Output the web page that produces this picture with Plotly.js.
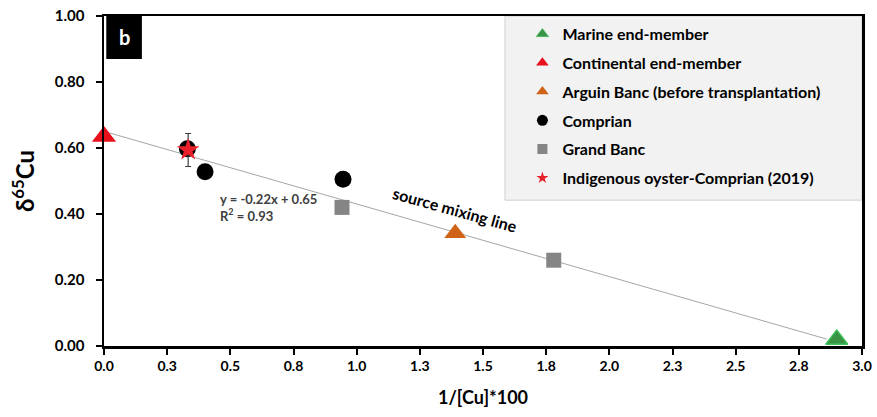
<!DOCTYPE html>
<html>
<head>
<meta charset="utf-8">
<script src="https://cdn.plot.ly/plotly-3.0.1.min.js"></script>
<style>html,body{margin:0;padding:0;background:#fff;}#chart{width:877px;height:417px;}</style>
</head>
<body>
<div id="chart"></div>
<script>
// Data
const marineX = [2.90];
const marineY = [0.02];
const continentalX = [0.0];
const continentalY = [0.635];
const arguinX = [1.39];
const arguinY = [0.342];
const comprianX = [0.33, 0.40, 0.946];
const comprianY = [0.598, 0.528, 0.505];
const grandBancX = [0.942, 1.78];
const grandBancY = [0.42, 0.26];
const indigenousX = [0.333];
const indigenousY = [0.594];
const indigenousErr = [0.05];
const lineX = [0.02, 2.86];
const lineY = [0.646, 0.021];
const xTickVals = [0, 0.25, 0.5, 0.75, 1.0, 1.25, 1.5, 1.75, 2.0, 2.25, 2.5, 2.75, 3.0];
const xTickText = ["0.0","0.3","0.5","0.8","1.0","1.3","1.5","1.8","2.0","2.3","2.5","2.8","3.0"];
const yTickVals = [0, 0.2, 0.4, 0.6, 0.8, 1.0];
const yTickText = ["0.00","0.20","0.40","0.60","0.80","1.00"];
const seriesNames = ['Marine end-member', 'Continental end-member', 'Arguin Banc (before transplantation)',
                     'Comprian', 'Grand Banc', 'Indigenous oyster-Comprian (2019)'];

const F = "Lato, 'Open Sans', sans-serif";

const styles = [
  {symbol: 'triangle-up', color: '#3a9445', line: {color: '#3fc25a', width: 1.5}},
  {symbol: 'triangle-up', color: '#e8101a'},
  {symbol: 'triangle-up', color: '#cf6419'},
  {symbol: 'circle', color: '#000000'},
  {symbol: 'square', color: '#858585'},
  {symbol: 'star', color: '#e8202a'}
];
const chartSizes = [19, 21, 19, 17, 15, 17];
const legendSizes = [11, 11, 11, 11, 10, 9];
const xs = [marineX, continentalX, arguinX, comprianX, grandBancX, indigenousX];
const ys = [marineY, continentalY, arguinY, comprianY, grandBancY, indigenousY];

const traces = [
  {x: lineX, y: lineY, mode: 'lines', line: {color: '#a6a6a6', width: 1}, showlegend: false, hoverinfo: 'skip'}
];
for (let i = 0; i < 6; i++) {
  const m = Object.assign({}, styles[i], {size: chartSizes[i]});
  const t = {x: xs[i], y: ys[i], mode: 'markers', name: seriesNames[i], showlegend: false,
             cliponaxis: false, marker: m};
  if (i === 5) {
    t.error_y = {type: 'data', array: indigenousErr, visible: true, color: '#404040', thickness: 1.2, width: 3};
  }
  traces.push(t);
}
// legend entries (small markers, like the reference legend)
for (let i = 0; i < 6; i++) {
  const m = Object.assign({}, styles[i], {size: legendSizes[i]});
  if (i === 0) m.line = {color: '#3fc25a', width: 0.5};
  traces.push({x: [null], y: [null], mode: 'markers', name: seriesNames[i], legendgroup: 'g' + i,
               showlegend: true, marker: m, hoverinfo: 'skip'});
}

const layout = {
  width: 877, height: 417,
  margin: {l: 104, r: 15, t: 16, b: 71, pad: 0},
  paper_bgcolor: '#ffffff', plot_bgcolor: '#ffffff',
  font: {family: F, color: '#000'},
  showlegend: true,
  legend: {
    x: 0.552, y: 0.997, xanchor: 'left', yanchor: 'top',
    bgcolor: 'rgba(0,0,0,0)', borderwidth: 0,
    traceorder: 'grouped', tracegroupgap: 5, itemsizing: 'trace',
    font: {family: F, size: 16, weight: 700, color: '#000'}
  },
  xaxis: {
    range: [0, 3], tickmode: 'array', tickvals: xTickVals, ticktext: xTickText,
    showgrid: false, zeroline: false, showline: true, linecolor: '#000', linewidth: 2.5, mirror: true,
    ticks: 'outside', ticklen: 6, tickwidth: 2, tickcolor: '#000',
    tickfont: {family: "'Liberation Sans Narrow', 'Arial Narrow', Lato, sans-serif", size: 14, weight: 700},
    title: {text: '1/[Cu]*100', font: {family: F, size: 18, weight: 700}, standoff: 18}
  },
  yaxis: {
    range: [0, 1], tickmode: 'array', tickvals: yTickVals, ticktext: yTickText,
    showgrid: false, zeroline: false, showline: true, linecolor: '#000', linewidth: 2.5, mirror: true,
    ticks: 'outside', ticklen: 6, tickwidth: 2, tickcolor: '#000', ticklabelstandoff: 8,
    tickfont: {family: F, size: 15, weight: 700},
    title: {text: 'δ<sup>65</sup>Cu', font: {family: F, size: 24, weight: 700}, standoff: 14}
  },
  shapes: [
    {type: 'rect', xref: 'paper', yref: 'paper', x0: 0.529, x1: 1, y0: 0.442, y1: 1,
     fillcolor: '#f2f2f2', line: {color: '#d0d0d0', width: 1}, layer: 'below'},
    {type: 'rect', xref: 'paper', yref: 'paper', x0: 0.003, x1: 0.05, y0: 0.87, y1: 1,
     fillcolor: '#000', line: {width: 0}, layer: 'above'}
  ],
  annotations: [
    {xref: 'paper', yref: 'paper', x: 0.0265, y: 0.935, text: 'b', showarrow: false,
     font: {family: F, size: 20, weight: 700, color: '#fff'}, xanchor: 'center', yanchor: 'middle'},
    {x: 0.45, y: 0.42, xanchor: 'left', yanchor: 'middle', showarrow: false, align: 'left',
     text: 'y = -0.22x + 0.65<br>R<sup>2</sup> = 0.93', font: {family: F, size: 13, weight: 700, color: '#404040'}},
    {x: 1.39, y: 0.415, xanchor: 'center', yanchor: 'middle', showarrow: false, textangle: 15.5,
     text: 'source mixing line', font: {family: F, size: 16, weight: 700, color: '#000'}}
  ]
};

Plotly.newPlot('chart', traces, layout, {displayModeBar: false, staticPlot: true});
</script>
</body>
</html>
